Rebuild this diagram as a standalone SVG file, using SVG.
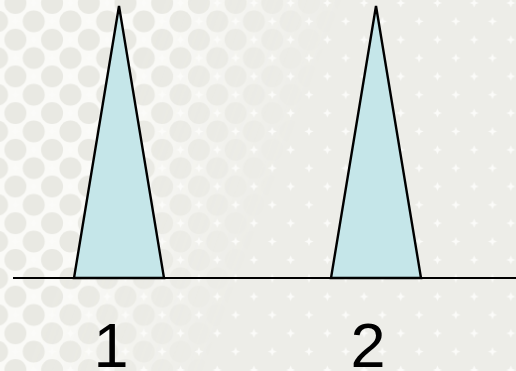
<svg xmlns="http://www.w3.org/2000/svg" width="516" height="371" viewBox="0 0 516 371">
  <style>
    .tri { fill: #c5e6e9; stroke: #000; stroke-width: 2.4; stroke-linejoin: miter; }
    .lbl { font-family: "Liberation Sans", Arial, sans-serif; font-size: 63px; fill: #000; text-anchor: middle; }
    .base { stroke: #000; stroke-width: 2; fill: none; }
  </style>
  <defs>
    <pattern id="gaps" patternUnits="userSpaceOnUse" x="15.4" y="3" width="36.7" height="36.7">
      <rect width="36.7" height="36.7" fill="#fafaf7"/>
      <g fill="#e9e9e3">
        <circle cx="0" cy="0" r="11"/>
        <circle cx="36.7" cy="0" r="11"/>
        <circle cx="0" cy="36.7" r="11"/>
        <circle cx="36.7" cy="36.7" r="11"/>
        <circle cx="18.35" cy="18.35" r="11"/>
      </g>
    </pattern>
    <pattern id="stars" patternUnits="userSpaceOnUse" x="15.4" y="3" width="36.7" height="36.7">
      <g fill="#fbfbf9">
        <path d="M18.35,-4.5 L19.7,-1.3 L22.85,0 L19.7,1.3 L18.35,4.5 L17,1.3 L13.85,0 L17,-1.3 Z"/>
        <path d="M18.35,32.2 L19.7,35.4 L22.85,36.7 L19.7,38 L18.35,41.2 L17,38 L13.85,36.7 L17,35.4 Z"/>
        <path d="M0,13.85 L1.3,17.05 L4.5,18.35 L1.3,19.65 L0,22.85 L-1.3,19.65 L-4.5,18.35 L-1.3,17.05 Z"/>
        <path d="M36.7,13.85 L38,17.05 L41.2,18.35 L38,19.65 L36.7,22.85 L35.4,19.65 L32.2,18.35 L35.4,17.05 Z"/>
      </g>
    </pattern>
    <linearGradient id="fade" gradientUnits="userSpaceOnUse" x1="140" y1="60" x2="300" y2="120">
      <stop offset="0" stop-color="#fff"/>
      <stop offset="1" stop-color="#000"/>
    </linearGradient>
    <mask id="fadeMask" maskUnits="userSpaceOnUse" x="0" y="0" width="516" height="371">
      <rect width="516" height="371" fill="url(#fade)"/>
    </mask>
  </defs>

  <g id="background">
    <rect width="516" height="371" fill="#ededE8"/>
    <rect width="516" height="371" fill="url(#gaps)" mask="url(#fadeMask)"/>
    <rect width="516" height="371" fill="url(#stars)"/>
  </g>

  <g id="connectors">
    <line class="base" x1="13" y1="278" x2="516" y2="278"/>
  </g>

  <g id="peak1">
    <polygon class="tri" points="119,6 164,278 74,278"/>
  </g>
  <g id="peak2">
    <polygon class="tri" points="376,6 421,278 331,278"/>
  </g>

  <g id="label1">
    <text class="lbl" x="111" y="367">1</text>
  </g>
  <g id="label2">
    <text class="lbl" x="368" y="367">2</text>
  </g>
</svg>
